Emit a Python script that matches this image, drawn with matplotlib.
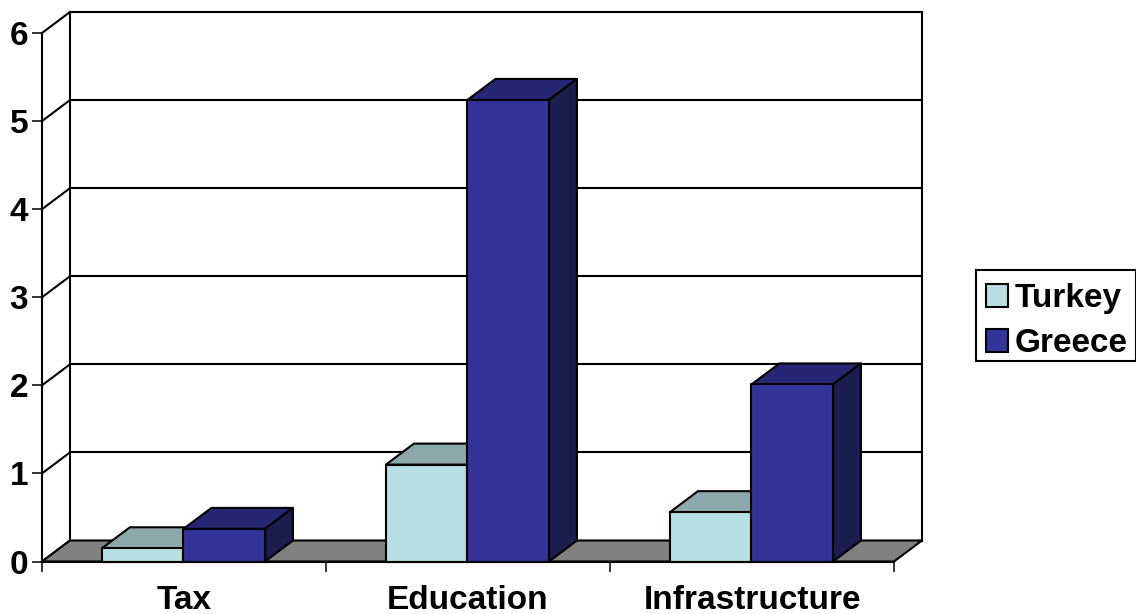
import matplotlib
matplotlib.use("Agg")
import matplotlib.pyplot as plt
from matplotlib.patches import Polygon, Rectangle

categories = ["Tax", "Education", "Infrastructure"]
turkey = [0.15, 1.1, 0.56]
greece = [0.37, 5.24, 2.01]
y_ticks = [0, 1, 2, 3, 4, 5, 6]

# colours: front, top, side
turkey_colors = ["#b8e0e3", "#8da8ab", "#6f8a8c"]
greece_colors = ["#333399", "#262673", "#1c1c4d"]
floor_color = "#808080"

W, H = 1136, 614
line_width = 1.5
font_size = 24

plt.rcParams["font.family"] = ["Liberation Sans", "DejaVu Sans"]
plt.rcParams["font.weight"] = "bold"

fig = plt.figure(figsize=(W / 100, H / 100), dpi=100)
# front plane of the 3d box, in pixels
left, right, bottom, top = 42, 894, 561.5, 33
ax = fig.add_axes([left / W, 1 - bottom / H, (right - left) / W, (bottom - top) / H])
ax.set_xlim(0, 3)
ax.set_ylim(0, 6)
ax.patch.set_visible(False)

# depth of the box in data units
dx = 28 / ((right - left) / 3)
dy = 21 / ((bottom - top) / 6)


def poly(points, color, z):
    ax.add_patch(Polygon(points, closed=True, facecolor=color, edgecolor="black",
                         linewidth=line_width, joinstyle="round", clip_on=False, zorder=z))


def bar3d(x0, width, value, colors, z):
    x1 = x0 + width
    poly([(x0, value), (x1, value), (x1 + dx, value + dy), (x0 + dx, value + dy)], colors[1], z)
    poly([(x1, 0), (x1 + dx, dy), (x1 + dx, value + dy), (x1, value)], colors[2], z)
    poly([(x0, 0), (x1, 0), (x1, value), (x0, value)], colors[0], z)


# floor
poly([(0, 0), (3, 0), (3 + dx, dy), (dx, dy)], floor_color, 2)

# back wall and gridlines
for t in y_ticks:
    ax.plot([dx, 3 + dx], [t + dy, t + dy], color="black", lw=line_width, clip_on=False, zorder=1)
    ax.plot([0, dx], [t, t + dy], color="black", lw=line_width, clip_on=False, zorder=1)
ax.plot([dx, dx], [dy, 6 + dy], color="black", lw=line_width, clip_on=False, zorder=1)
ax.plot([3 + dx, 3 + dx], [dy, 6 + dy], color="black", lw=line_width, clip_on=False, zorder=1)

# bars
gap = 0.211
width = 0.287
for i in range(len(categories)):
    bar3d(i + gap, width, turkey[i], turkey_colors, 3 + i)
    bar3d(i + gap + width, width, greece[i], greece_colors, 3.5 + i)

# axes
for side in ["top", "right"]:
    ax.spines[side].set_visible(False)
for side in ["left", "bottom"]:
    ax.spines[side].set_linewidth(line_width)
    ax.spines[side].set_zorder(10)

ax.set_yticks(y_ticks)
ax.set_xticks([0, 1, 2, 3])
ax.set_xticklabels([])
ax.set_xticks([0.5, 1.5, 2.5], categories, minor=True, fontsize=font_size, fontweight="bold")
ax.tick_params(axis="x", which="major", length=7, width=1.1, direction="out")
ax.tick_params(axis="x", which="minor", length=0, pad=17)
ax.tick_params(axis="y", length=7, width=1.1, direction="out", pad=3, labelsize=font_size)

# legend frame is separate, its padding is uneven in the original
fig.add_artist(Rectangle((976 / W, 1 - 361 / H), 160 / W, 91 / H, transform=fig.transFigure,
                         facecolor="white", edgecolor="black", linewidth=line_width))
handles = [Rectangle((0, 0), 1, 1, facecolor=turkey_colors[0], edgecolor="black", linewidth=line_width),
           Rectangle((0, 0), 1, 1, facecolor=greece_colors[0], edgecolor="black", linewidth=line_width)]
leg = fig.legend(handles, ["Turkey", "Greece"], loc="upper left",
                 bbox_to_anchor=(976 / W, 1 - 273 / H), fontsize=font_size, frameon=False,
                 handlelength=0.66, handleheight=0.66, handletextpad=0.2,
                 labelspacing=0.42, borderpad=0.3, borderaxespad=0)

fig.savefig("out.png", dpi=100)
